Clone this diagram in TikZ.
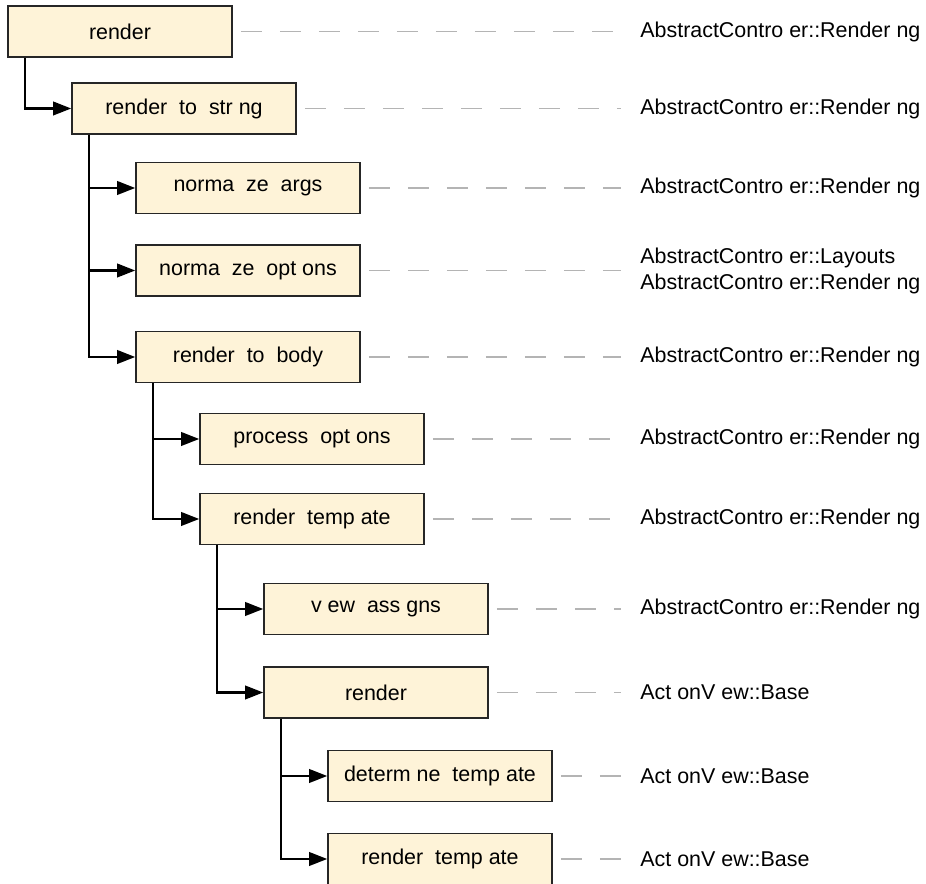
\documentclass[tikz,border=0pt]{standalone}
\usepackage{fontspec}
\setmainfont{Liberation Sans}
\usetikzlibrary{arrows.meta}
\definecolor{boxfill}{HTML}{FEF3D8}
\definecolor{trailgray}{HTML}{B4B4B4}

\begin{document}
\begin{tikzpicture}[
  call/.style={draw=black!85,fill=boxfill,line width=0.9pt,minimum width=4.48cm,minimum height=1.02cm,inner sep=0pt,font=\fontsize{12.2}{14.8}\selectfont},
  owner/.style={anchor=west,align=left,inner sep=0pt,font=\fontsize{12.2}{14.8}\selectfont},
  link/.style={line width=1.2pt,-{Triangle[length=0.36cm,width=0.27cm]}},
  trail/.style={trailgray,line width=0.85pt,dash pattern=on 0.42cm off 0.36cm}]
\useasboundingbox (0,0) rectangle (18.52,-17.68);
\node[call] (render) at (2.40,-0.63) {render};
\node[call] (renderToString) at (3.68,-2.17) {render~~to~~str ng};
\node[call] (normalizeArgs) at (4.96,-3.76) {norma~~ze~~args};
\node[call] (normalizeOptions) at (4.96,-5.41) {norma~~ze~~opt ons};
\node[call] (renderToBody) at (4.96,-7.14) {render~~to~~body};
\node[call] (processOptions) at (6.24,-8.78) {process~~opt ons};
\node[call] (renderTemplate) at (6.24,-10.38) {render~~temp ate};
\node[call] (viewAssigns) at (7.52,-12.18) {v ew~~ass gns};
\node[call] (viewRender) at (7.52,-13.85) {render};
\node[call] (determineTemplate) at (8.80,-15.52) {determ ne~~temp ate};
\node[call] (viewRenderTemplate) at (8.80,-17.18) {render~~temp ate};
\node[owner] (ownerA) at (12.80,-0.63) {AbstractContro er::Render ng};
\node[owner] (ownerB) at (12.80,-2.17) {AbstractContro er::Render ng};
\node[owner] (ownerC) at (12.80,-3.76) {AbstractContro er::Render ng};
\node[owner] (ownerD) at (12.80,-5.41) {AbstractContro er::Layouts\\AbstractContro er::Render ng};
\node[owner] (ownerE) at (12.80,-7.14) {AbstractContro er::Render ng};
\node[owner] (ownerF) at (12.80,-8.78) {AbstractContro er::Render ng};
\node[owner] (ownerG) at (12.80,-10.38) {AbstractContro er::Render ng};
\node[owner] (ownerH) at (12.80,-12.18) {AbstractContro er::Render ng};
\node[owner] (ownerI) at (12.80,-13.85) {Act onV ew::Base};
\node[owner] (ownerJ) at (12.80,-15.52) {Act onV ew::Base};
\node[owner] (ownerK) at (12.80,-17.18) {Act onV ew::Base};
\draw[link] ([xshift=0.36cm]render.south west) |- (renderToString.west);
\draw[link] ([xshift=0.36cm]renderToString.south west) |- (normalizeArgs.west);
\draw[link] ([xshift=0.36cm]renderToString.south west) |- (normalizeOptions.west);
\draw[link] ([xshift=0.36cm]renderToString.south west) |- (renderToBody.west);
\draw[link] ([xshift=0.36cm]renderToBody.south west) |- (processOptions.west);
\draw[link] ([xshift=0.36cm]renderToBody.south west) |- (renderTemplate.west);
\draw[link] ([xshift=0.36cm]renderTemplate.south west) |- (viewAssigns.west);
\draw[link] ([xshift=0.36cm]renderTemplate.south west) |- (viewRender.west);
\draw[link] ([xshift=0.36cm]viewRender.south west) |- (determineTemplate.west);
\draw[link] ([xshift=0.36cm]viewRender.south west) |- (viewRenderTemplate.west);
\draw[trail] ([xshift=0.16cm]render.east) -- ([xshift=-0.38cm]ownerA.west);
\draw[trail] ([xshift=0.16cm]renderToString.east) -- ([xshift=-0.38cm]ownerB.west);
\draw[trail] ([xshift=0.16cm]normalizeArgs.east) -- ([xshift=-0.38cm]ownerC.west);
\draw[trail] ([xshift=0.16cm]normalizeOptions.east) -- ([xshift=-0.38cm]ownerD.west);
\draw[trail] ([xshift=0.16cm]renderToBody.east) -- ([xshift=-0.38cm]ownerE.west);
\draw[trail] ([xshift=0.16cm]processOptions.east) -- ([xshift=-0.38cm]ownerF.west);
\draw[trail] ([xshift=0.16cm]renderTemplate.east) -- ([xshift=-0.38cm]ownerG.west);
\draw[trail] ([xshift=0.16cm]viewAssigns.east) -- ([xshift=-0.38cm]ownerH.west);
\draw[trail] ([xshift=0.16cm]viewRender.east) -- ([xshift=-0.38cm]ownerI.west);
\draw[trail] ([xshift=0.16cm]determineTemplate.east) -- ([xshift=-0.38cm]ownerJ.west);
\draw[trail] ([xshift=0.16cm]viewRenderTemplate.east) -- ([xshift=-0.38cm]ownerK.west);
\end{tikzpicture}
\end{document}
